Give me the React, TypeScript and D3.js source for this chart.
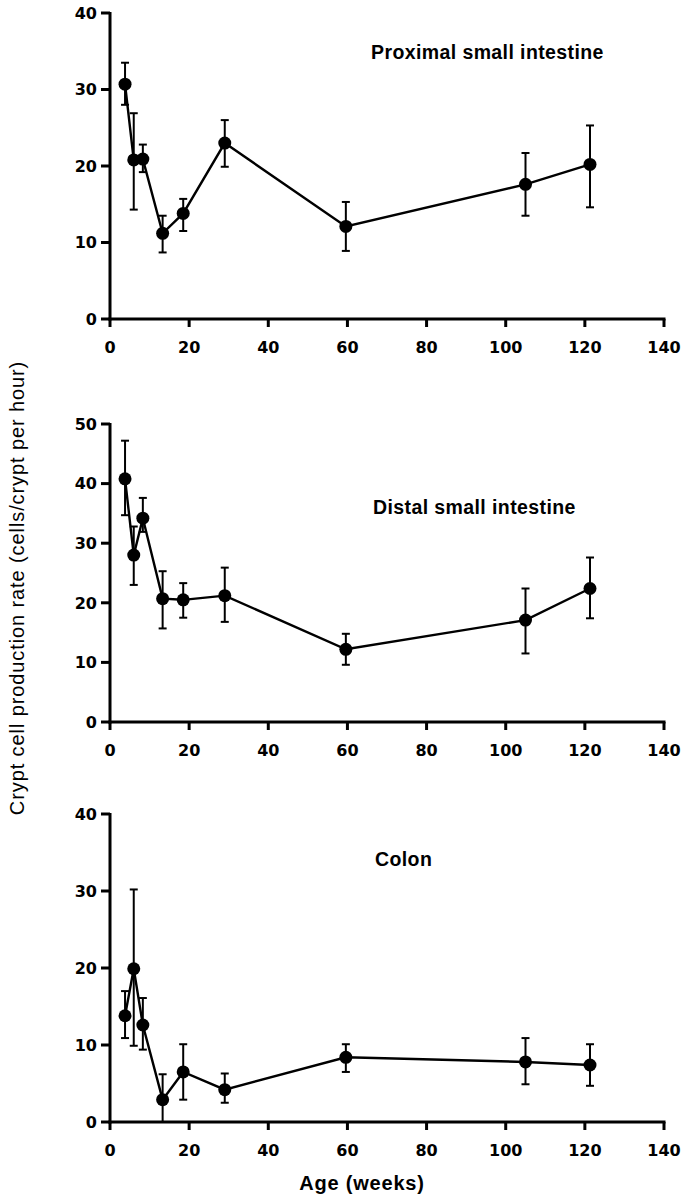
import React from "react";
import * as d3 from "d3";

const ages = [3.8, 6.0, 8.3, 13.3, 18.5, 29.0, 59.6, 105.0, 121.3];

const proximalMean = [30.7, 20.8, 20.9, 11.2, 13.8, 23.0, 12.1, 17.6, 20.2];
const proximalHi = [33.5, 26.9, 22.8, 13.5, 15.7, 26.0, 15.3, 21.7, 25.3];
const proximalLo = [28.0, 14.3, 19.2, 8.7, 11.5, 19.9, 8.9, 13.5, 14.6];

const distalMean = [40.8, 28.0, 34.2, 20.7, 20.5, 21.2, 12.2, 17.1, 22.4];
const distalHi = [47.2, 32.8, 37.6, 25.3, 23.3, 25.9, 14.8, 22.4, 27.6];
const distalLo = [34.7, 23.0, 31.9, 15.7, 17.5, 16.8, 9.6, 11.5, 17.4];

const colonMean = [13.8, 19.9, 12.6, 2.9, 6.5, 4.2, 8.4, 7.8, 7.4];
const colonHi = [17.0, 30.2, 16.1, 6.2, 10.1, 6.3, 10.1, 10.9, 10.1];
const colonLo = [10.9, 9.9, 9.4, 0.0, 2.9, 2.5, 6.5, 4.9, 4.7];

const xTicks = [0, 20, 40, 60, 80, 100, 120, 140];
const yTicksA = [0, 10, 20, 30, 40];
const yTicksB = [0, 10, 20, 30, 40, 50];

const panelTitles = ["Proximal small intestine", "Distal small intestine", "Colon"];
const yAxisTitle = "Crypt cell production rate (cells/crypt per hour)";
const xAxisTitle = "Age (weeks)";

const FONT = "'Liberation Sans', Arial, Helvetica, sans-serif";
const TICKFONT = "'DejaVu Sans', sans-serif";

type PanelProps = {
  top: number;
  bottom: number;
  yMax: number;
  yTicks: number[];
  mean: number[];
  hi: number[];
  lo: number[];
  title: string;
  titleX: number;
  titleY: number;
};

const X0 = 110;
const X1 = 664;

function Panel({ top, bottom, yMax, yTicks, mean, hi, lo, title, titleX, titleY }: PanelProps) {
  const x = d3.scaleLinear().domain([0, 140]).range([X0, X1]);
  const y = d3.scaleLinear().domain([0, yMax]).range([bottom, top]);
  const line = d3
    .line<number>()
    .x((_, i) => x(ages[i]))
    .y((d) => y(d));
  return (
    <g>
      <line x1={X0} x2={X0} y1={top - 1} y2={bottom + 1.5} stroke="#000" strokeWidth={3} />
      <line x1={X0 - 1.5} x2={x(140) + 1.5} y1={bottom} y2={bottom} stroke="#000" strokeWidth={3} />
      {yTicks.map((t) => (
        <g key={"y" + t}>
          <line x1={X0 - 9} x2={X0} y1={y(t)} y2={y(t)} stroke="#000" strokeWidth={3} />
          <text
            x={X0 - 13}
            y={y(t)}
            dy="0.36em"
            textAnchor="end"
            fontFamily={TICKFONT}
            fontWeight="bold"
            fontSize={16}
          >
            {t}
          </text>
        </g>
      ))}
      {xTicks.map((t) => (
        <g key={"x" + t}>
          <line x1={x(t)} x2={x(t)} y1={bottom} y2={bottom + 8} stroke="#000" strokeWidth={3} />
          <text
            x={x(t)}
            y={bottom + 28}
            dy="0.36em"
            textAnchor="middle"
            fontFamily={TICKFONT}
            fontWeight="bold"
            fontSize={16}
          >
            {t}
          </text>
        </g>
      ))}
      {ages.map((a, i) => (
        <g key={"e" + i} stroke="#000" strokeWidth={2}>
          <line x1={x(a)} x2={x(a)} y1={y(hi[i])} y2={y(lo[i])} />
          <line x1={x(a) - 4} x2={x(a) + 4} y1={y(hi[i])} y2={y(hi[i])} />
          <line x1={x(a) - 4} x2={x(a) + 4} y1={y(lo[i])} y2={y(lo[i])} />
        </g>
      ))}
      <path d={line(mean) || ""} fill="none" stroke="#000" strokeWidth={2.4} />
      {ages.map((a, i) => (
        <circle key={"c" + i} cx={x(a)} cy={y(mean[i])} r={6.5} fill="#000" />
      ))}
      <text
        x={titleX}
        y={titleY}
        dy="0.36em"
        fontFamily={FONT}
        fontWeight="bold"
        fontSize={19.5}
        letterSpacing={0.4}
      >
        {title}
      </text>
    </g>
  );
}

export default function App() {
  return (
    <svg
      width={687}
      height={1196}
      style={{ position: "absolute", left: 0, top: 0, background: "#fff" }}
    >
      <rect x={0} y={0} width={687} height={1196} fill="#fff" />
      <Panel
        top={13}
        bottom={319}
        yMax={40}
        yTicks={yTicksA}
        mean={proximalMean}
        hi={proximalHi}
        lo={proximalLo}
        title={panelTitles[0]}
        titleX={371}
        titleY={52}
      />
      <Panel
        top={424}
        bottom={722}
        yMax={50}
        yTicks={yTicksB}
        mean={distalMean}
        hi={distalHi}
        lo={distalLo}
        title={panelTitles[1]}
        titleX={373}
        titleY={507}
      />
      <Panel
        top={814}
        bottom={1122}
        yMax={40}
        yTicks={yTicksA}
        mean={colonMean}
        hi={colonHi}
        lo={colonLo}
        title={panelTitles[2]}
        titleX={375}
        titleY={859}
      />
      <text
        transform="translate(17,588) rotate(-90)"
        dy="0.36em"
        textAnchor="middle"
        fontFamily={FONT}
        fontSize={20}
        letterSpacing={0.9}
      >
        {yAxisTitle}
      </text>
      <text
        x={362}
        y={1183}
        dy="0.36em"
        textAnchor="middle"
        fontFamily={FONT}
        fontWeight="bold"
        fontSize={20}
        letterSpacing={0.8}
      >
        {xAxisTitle}
      </text>
    </svg>
  );
}
